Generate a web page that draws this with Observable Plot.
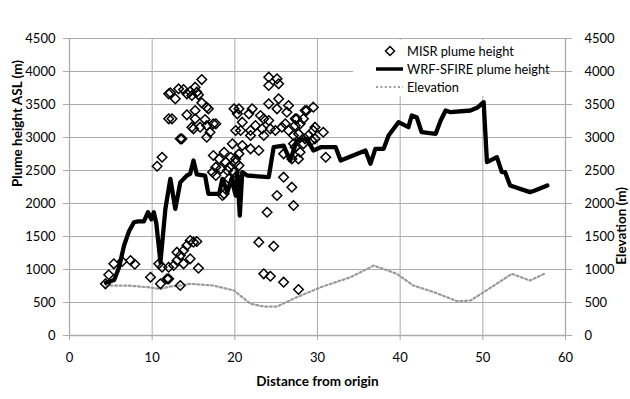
<!DOCTYPE html>
<html><head><meta charset="utf-8">
<script src="https://cdn.jsdelivr.net/npm/d3@7"></script>
<script src="https://cdn.jsdelivr.net/npm/@observablehq/plot@0.6"></script>
<style>
body{margin:0;background:#fff;}
#wrap{position:relative;width:630px;height:399px;font-family:Lato,"Open Sans",sans-serif;}
#legend{position:absolute;left:353px;top:40px;width:192px;height:56px;background:#fff;font-size:12.8px;color:#000;}
#legend .row{position:absolute;left:0;height:18px;display:flex;align-items:center;white-space:nowrap;}
#legend svg{display:block;margin-right:4px;}
</style></head><body><div id="wrap"></div>
<script>
// WRF-SFIRE plume height (line)
const wrfX = [4.4,5.4,6.0,6.6,7.2,7.8,8.3,9.0,9.5,9.9,10.2,10.5,11.0,11.6,12.2,12.8,13.4,14.2,14.6,15.0,15.4,16.4,16.8,18.1,18.5,19.1,19.6,20.1,20.3,20.6,20.9,21.5,24.1,24.7,25.9,26.7,27.5,28.7,29.5,30.4,32.2,32.8,35.8,36.4,37.0,38.0,38.6,39.8,41.0,41.4,42.0,42.6,44.3,44.9,45.5,46.1,48.5,49.3,50.1,50.5,51.7,52.3,52.7,53.3,55.7,56.3,57.8];
const wrfY = [800,840,1035,1364,1580,1716,1730,1730,1868,1760,1868,1700,1110,1919,2374,1919,2320,2424,2450,2651,2440,2424,2146,2146,2374,2172,2374,2120,2480,1818,2475,2424,2399,2853,2878,2651,2954,2980,2803,2853,2853,2651,2803,2601,2828,2828,3030,3232,3156,3333,3307,3080,3055,3257,3409,3383,3409,3450,3535,2626,2702,2475,2475,2273,2172,2197,2273];
// Elevation (dotted)
const elevX = [4.4,7.0,9.4,11.0,12.2,13.4,14.6,17.4,19.9,21.9,23.5,25.1,27.5,30.4,32.8,34.0,36.8,39.6,41.6,44.1,46.9,48.5,50.1,53.5,55.7,57.4];
const elevY = [757,757,732,707,742,757,783,757,682,480,439,439,580,732,833,883,1060,934,757,656,520,530,656,934,833,934];
// MISR plume height (diamonds)
const misrX = [4.35,4.75,5.36,6.37,7.38,7.9,9.8,10.8,11.2,11.0,11.8,10.6,11.2,12.0,12.0,
 12.0,12.6,13.0,13.4,13.8,14.2,14.6,15.0,15.4,13.8,14.6,15.6,13.4,12.0,13.0,
 16.0,12.2,12.8,13.2,13.8,14.2,14.6,15.2,15.4,15.6,14.8,16.0,16.6,16.8,15.2,14.2,12.4,16.4,15.2,14.8,15.8,16.6,17.7,17.0,16.6,13.4,15.0,17.4,13.6,
 17.4,18.1,18.7,18.9,19.5,19.7,17.7,17.3,18.3,19.3,20.1,19.9,18.7,19.3,19.9,20.3,20.1,18.5,17.7,19.1,
 24.1,25.1,24.1,25.3,24.1,25.3,26.5,25.1,26.3,28.7,29.5,20.5,22.1,21.7,23.1,23.5,24.1,26.1,27.3,27.9,28.3,29.7,30.7,20.9,22.5,21.9,23.3,23.5,24.3,24.9,25.7,26.5,27.1,27.7,28.9,29.5,21.9,20.7,20.9,20.5,21.9,22.9,20.1,20.5,20.1,
 25.9,26.9,27.3,27.9,28.3,29.3,31.0,25.9,26.9,25.1,27.1,23.9,22.9,24.7,23.5,24.3,25.9,27.7,
 28.5,27.5,27.3,27.1,27.7,29.7,28.5];
const misrY = [783,920,1086,1121,1136,1080,883,1086,1035,783,859,2565,2701,3662,3283,
 1035,1060,1136,1212,1288,1364,1439,1414,1424,1086,1162,1020,757,859,1262,
 3878,3677,3586,3737,3727,3662,3697,3762,3687,3647,3636,3525,3459,3434,3409,3343,3283,3272,3283,3156,3156,3181,3207,3080,3005,2980,3131,3207,2980,
 2727,2676,2777,2626,2701,2904,2550,2475,2525,2550,2626,2475,2146,2374,3434,3358,3106,2121,2424,2500,
 3914,3889,3788,3813,3510,3586,3485,3434,3384,3409,3459,3434,3434,3358,3333,3283,3257,3207,3283,3207,3283,3156,3080,3232,3181,3106,3131,3030,3131,3106,3156,3106,3030,3055,3030,3106,3030,3106,2878,2752,2828,2803,2676,2575,2399,
 2752,2676,2853,2777,2904,2954,2701,2399,2247,2121,1970,1868,1414,1353,934,898,808,697,
 3409,3283,3181,2904,2676,2980,2980];
const xTicks = [0,10,20,30,40,50,60];
const yTicks = [0,500,1000,1500,2000,2500,3000,3500,4000,4500];
const legendLabels = ["MISR plume height","WRF-SFIRE plume height","Elevation"];
const axisTitles = {x:"Distance from origin", yLeft:"Plume height ASL (m)", yRight:"Elevation (m)"};

const wrf = wrfX.map((x,i)=>({x, y:wrfY[i]}));
const elev = elevX.map((x,i)=>({x, y:elevY[i]}));
const misr = misrX.map((x,i)=>({x, y:misrY[i]}));

const grid = "#ababab";
const chart = Plot.plot({
  width:630, height:399,
  marginLeft:69, marginRight:65, marginTop:38, marginBottom:64,
  style:{fontFamily:"Lato, 'Open Sans', sans-serif", fontSize:"13px", background:"#fff", color:"#000"},
  x:{domain:[0,60]},
  y:{domain:[0,4500]},
  marks:[
    Plot.gridY(yTicks, {stroke:grid, strokeOpacity:1, strokeWidth:1}),
    Plot.gridX(xTicks, {stroke:grid, strokeOpacity:1, strokeWidth:1}),
    Plot.ruleX([0,60], {stroke:grid, strokeWidth:1.3}),
    Plot.ruleY([0], {stroke:grid, strokeWidth:1.3}),
    Plot.axisY(yTicks, {anchor:"left", tickSize:6, tickPadding:8, stroke:grid, fill:"#000", label:null, tickFormat:d=>String(d)}),
    Plot.axisY(yTicks, {anchor:"right", tickSize:6, tickPadding:13, stroke:grid, fill:"#000", label:null, tickFormat:d=>String(d)}),
    Plot.axisX(xTicks, {anchor:"bottom", tickSize:5, tickPadding:12, stroke:grid, fill:"#000", label:null, tickFormat:d=>String(d)}),
    Plot.line(elev, {x:"x", y:"y", stroke:"#9a9a9a", strokeWidth:2.2, strokeDasharray:"2,2.6"}),
    Plot.dot(misr, {x:"x", y:"y", symbol:"diamond2", r:4.3, stroke:"#000", strokeWidth:1.5, fill:"none"}),
    Plot.line(wrf, {x:"x", y:"y", stroke:"#000", strokeWidth:4.3, strokeLinejoin:"round", strokeLinecap:"round"}),
    Plot.text([axisTitles.yLeft], {text:d=>d, frameAnchor:"left", dx:-52, rotate:-90, fontWeight:"bold", fontSize:13.5}),
    Plot.text([axisTitles.yRight], {text:d=>d, frameAnchor:"right", dx:56, rotate:-90, fontWeight:"bold", fontSize:13.5}),
    Plot.text([axisTitles.x], {text:d=>d, frameAnchor:"bottom", dy:50, fontWeight:"bold", fontSize:13.5})
  ]
});
const wrap = document.getElementById("wrap");
wrap.appendChild(chart);

// legend (inside plot area, top right)
const legend = document.createElement("div");
legend.id = "legend";
const swatches = [
  '<svg width="50" height="18"><path d="M37,4.5 L41.5,9 L37,13.5 L32.5,9 Z" fill="none" stroke="#000" stroke-width="1.5"/></svg>',
  '<svg width="50" height="18"><line x1="23" y1="9" x2="50" y2="9" stroke="#000" stroke-width="3.5"/></svg>',
  '<svg width="50" height="18"><line x1="23" y1="9" x2="50" y2="9" stroke="#9a9a9a" stroke-width="2" stroke-dasharray="2,2.4"/></svg>'
];
legendLabels.forEach((lab,i)=>{
  const row = document.createElement("div");
  row.className = "row";
  row.style.top = (2 + i*18) + "px";
  row.innerHTML = swatches[i] + '<span>' + lab + '</span>';
  legend.appendChild(row);
});
wrap.appendChild(legend);
</script>
</body></html>
